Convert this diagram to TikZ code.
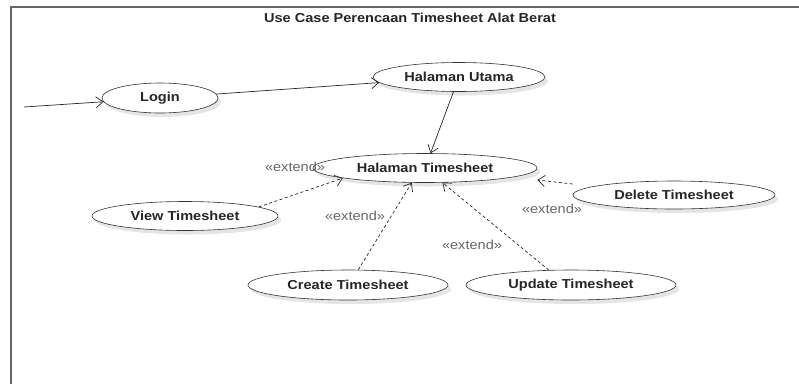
\documentclass[tikz,border=0pt]{standalone}
\usepackage{fontspec}
\setmainfont{Liberation Sans}[FakeStretch=1.12]
\usetikzlibrary{arrows.meta,shadows,shapes.geometric}

\begin{document}
\begin{tikzpicture}[x=1pt,y=-1pt,
  usecase/.style={ellipse,draw=black!80,line width=0.6pt,fill=white,inner sep=0pt,
    font=\bfseries\fontsize{13}{15}\selectfont,text=black!85,
    drop shadow={shadow xshift=3pt,shadow yshift=-4pt,fill=black!10,opacity=1}},
  assoc/.style={draw=black!85,line width=0.7pt,-{Straight Barb[length=7pt,width=11pt]}},
  ext/.style={assoc,dash pattern=on 3pt off 2.5pt},
  stereo/.style={text=black!60,font=\fontsize{13}{15}\selectfont}]
\useasboundingbox (0,0) rectangle (799,384);
\draw[black!60,line width=1.3pt] (11,384) -- (11,7) -- (799,7);
\node[font=\bfseries\fontsize{13}{15}\selectfont,text=black!85] (title) at (410,18) {Use Case Perencaan Timesheet Alat Berat};

\node[usecase,minimum width=116pt,minimum height=30pt] (login) at (160,98) {Login};
\node[usecase,minimum width=172pt,minimum height=29pt] (utama) at (459,77) {Halaman Utama};
\node[usecase,minimum width=224pt,minimum height=29pt] (timesheet) at (425,168) {Halaman Timesheet};
\node[usecase,minimum width=186pt,minimum height=29pt] (view) at (185,216) {View Timesheet};
\node[usecase,minimum width=200pt,minimum height=30pt] (create) at (348,285) {Create Timesheet};
\node[usecase,minimum width=210pt,minimum height=30pt] (update) at (571,285) {Update Timesheet};
\node[usecase,minimum width=202pt,minimum height=28pt] (delete) at (674,195) {Delete Timesheet};

\coordinate (actor) at (24,107);
\draw[assoc] (actor) -- (login);
\draw[assoc] (login) -- (utama);
\draw[assoc] (utama) -- (timesheet);
\draw[ext] (view.7) -- (timesheet.187);
\draw[ext] (create.56) -- (timesheet.228);
\draw[ext] (update.146) -- (timesheet.320);
\draw[ext] ([yshift=11pt]delete.west) -- ([yshift=-12pt]timesheet.east);

\node[stereo] (ext1) at (295,167) {«extend»};
\node[stereo] (ext2) at (355,216) {«extend»};
\node[stereo] (ext3) at (472,245) {«extend»};
\node[stereo] (ext4) at (552,209) {«extend»};
\end{tikzpicture}
\end{document}
